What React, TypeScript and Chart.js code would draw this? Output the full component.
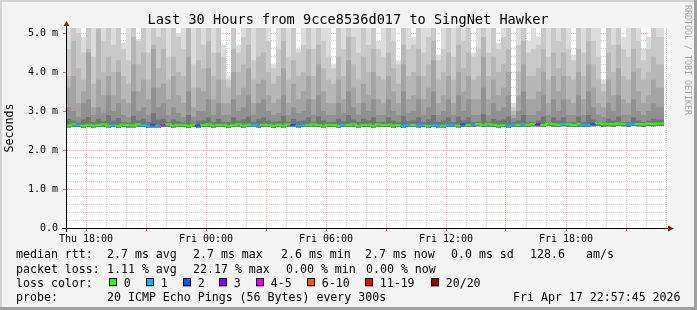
import React, { useEffect, useRef } from 'react';
import { Chart, registerables } from 'chart.js';

Chart.register(...registerables);

// ---- time axis (hours counted from Thu 00:00) ----
const START_HOUR = 17;
const END_HOUR = 47;
const BIN_HOURS = 0.25;
const DATA_END = 46.9;
const DAY_NAMES = ['Thu', 'Fri'];

const TITLE = 'Last 30 Hours from 9cce8536d017 to SingNet Hawker';
const Y_TITLE = 'Seconds';
const WATERMARK = 'RRDTOOL / TOBI OETIKER';

// ---- smoke layers (seconds, in milli units shown as "m") ----
const smokeMin = [
  2.59, 2.58, 2.6, 2.59, 2.57, 2.59, 2.58, 2.59, 2.6, 2.58,
  2.59, 2.57, 2.59, 2.58, 2.58, 2.6, 2.59, 2.57, 2.58, 2.58,
  2.59, 2.6, 2.58, 2.59, 2.59, 2.57, 2.59, 2.58, 2.59, 2.6,
  2.58, 2.59, 2.59, 2.57, 2.59, 2.6, 2.58, 2.59, 2.59, 2.58,
  2.59, 2.59, 2.57, 2.59, 2.58, 2.6, 2.59, 2.58, 2.59, 2.59,
  2.6, 2.59, 2.58, 2.59, 2.59, 2.57, 2.59, 2.59, 2.6, 2.58,
  2.59, 2.59, 2.58, 2.6, 2.59, 2.59, 2.58, 2.59, 2.57, 2.59,
  2.59, 2.58, 2.59, 2.57, 2.59, 2.58, 2.57, 2.59, 2.59, 2.58,
  2.6, 2.59, 2.59, 2.61, 2.59, 2.6, 2.59, 2.58, 2.59, 2.58,
  2.59, 2.59, 2.6, 2.59, 2.61, 2.6, 2.59, 2.62, 2.6, 2.59,
  2.61, 2.6, 2.59, 2.6, 2.59, 2.59, 2.61, 2.62, 2.6, 2.61,
  2.6, 2.62, 2.61, 2.6, 2.62, 2.61, 2.6, 2.62, 2.61, 2.62,
];

const smokeMax = [
  5.3, 5.3, 5.3, 5.3, 4.9, 5.3, 5.3, 5.3, 5.3, 5.3,
  5.3, 5.3, 4.75, 5.3, 5.3, 4.85, 5.3, 5.3, 5.3, 5.3,
  5.3, 5.3, 5.3, 5.0, 5.3, 5.3, 5.3, 5.3, 5.3, 5.3,
  5.3, 5.3, 4.7, 3.9, 5.3, 4.7, 5.3, 5.3, 5.3, 5.3,
  5.3, 5.3, 4.2, 5.3, 5.3, 5.3, 5.3, 4.6, 5.3, 5.3,
  5.3, 5.3, 5.3, 5.3, 4.2, 5.3, 5.3, 5.3, 5.3, 5.3,
  5.3, 5.3, 5.3, 4.8, 5.3, 5.3, 5.3, 4.3, 5.3, 5.3,
  4.9, 5.3, 5.3, 5.3, 5.3, 4.45, 5.3, 5.3, 5.3, 5.3,
  5.3, 5.3, 4.5, 5.3, 5.3, 5.3, 5.3, 4.75, 5.3, 5.3,
  3.2, 5.3, 5.3, 4.8, 5.3, 4.9, 5.3, 5.3, 5.3, 5.3,
  5.3, 5.3, 4.45, 5.3, 5.3, 5.3, 5.3, 5.3, 3.8, 5.3,
  5.3, 5.3, 4.9, 5.3, 5.3, 5.3, 4.6, 4.9, 5.3, 5.3,
];

const smokeQ2 = [
  5.3, 4.6, 5.3, 5.0, 4.5, 5.3, 4.4, 5.3, 4.8, 5.3,
  4.7, 5.3, 4.6, 4.3, 5.3, 4.8, 5.3, 4.5, 5.3, 4.9,
  5.3, 4.4, 5.3, 4.9, 4.6, 5.3, 4.2, 5.3, 4.7, 5.3,
  4.5, 5.3, 4.4, 3.8, 5.3, 4.5, 4.9, 5.3, 4.3, 5.3,
  5.3, 4.8, 4.1, 4.6, 5.3, 4.4, 5.3, 4.5, 4.7, 5.3,
  4.6, 5.3, 4.8, 4.4, 4.1, 5.3, 4.6, 5.3, 4.9, 4.5,
  5.3, 4.7, 5.3, 4.6, 4.4, 5.3, 4.8, 4.2, 5.3, 4.6,
  4.7, 5.3, 4.5, 4.9, 5.3, 4.3, 4.6, 5.3, 4.4, 5.3,
  4.8, 5.3, 4.4, 4.6, 5.3, 4.5, 5.3, 4.6, 4.9, 5.3,
  3.1, 4.7, 5.3, 4.5, 4.6, 4.7, 5.3, 4.4, 5.3, 4.8,
  5.3, 4.6, 4.3, 5.3, 4.5, 5.3, 4.8, 4.4, 3.7, 5.3,
  4.7, 5.3, 4.6, 4.4, 5.3, 4.8, 4.3, 4.6, 5.3, 4.9,
];

const smokeQ3 = [
  4.2, 3.9, 4.8, 4.1, 3.8, 4.6, 3.7, 5.1, 4.0, 4.4,
  4.0, 4.3, 3.9, 3.7, 4.9, 4.2, 4.5, 3.8, 4.7, 4.1,
  4.6, 3.8, 4.4, 4.0, 3.9, 5.2, 3.6, 4.3, 4.1, 4.8,
  3.9, 4.5, 3.8, 3.6, 4.6, 4.0, 4.2, 4.7, 3.8, 4.4,
  4.5, 4.0, 3.7, 3.9, 4.8, 3.8, 4.3, 3.9, 4.0, 4.6,
  3.9, 4.7, 4.1, 3.8, 3.7, 4.4, 3.9, 4.9, 4.2, 3.8,
  4.4, 4.0, 4.6, 3.9, 3.8, 4.5, 4.1, 3.7, 4.7, 3.9,
  4.0, 4.6, 3.9, 4.2, 4.8, 3.8, 4.0, 4.5, 3.8, 4.7,
  4.1, 4.5, 3.8, 3.9, 4.9, 3.9, 4.4, 4.0, 4.2, 4.6,
  3.0, 4.0, 4.8, 3.9, 3.9, 4.1, 4.6, 3.8, 4.5, 4.1,
  4.5, 3.9, 3.8, 4.6, 3.9, 4.8, 4.2, 3.8, 3.5, 4.5,
  4.0, 4.7, 3.9, 3.8, 4.6, 4.1, 3.8, 4.0, 4.4, 4.2,
];

const smokeQ4 = [
  3.3, 3.6, 3.9, 3.2, 3.5, 4.5, 3.1, 3.8, 3.4, 3.9,
  3.4, 4.0, 3.3, 3.2, 4.2, 3.5, 3.8, 3.3, 4.6, 3.6,
  3.7, 3.3, 3.9, 3.4, 3.2, 4.4, 3.1, 3.6, 3.5, 4.1,
  3.3, 3.8, 3.2, 3.2, 4.0, 3.4, 3.6, 4.1, 3.2, 3.7,
  3.8, 3.4, 3.2, 3.3, 4.1, 3.2, 3.7, 3.3, 3.5, 3.9,
  3.3, 4.2, 3.5, 3.2, 3.2, 3.8, 3.3, 4.3, 3.6, 3.2,
  3.7, 3.4, 4.0, 3.3, 3.2, 3.9, 3.5, 3.2, 4.2, 3.3,
  3.4, 3.9, 3.3, 3.6, 4.3, 3.2, 3.4, 3.9, 3.2, 4.0,
  3.5, 3.9, 3.3, 3.3, 4.4, 3.3, 3.8, 3.4, 3.6, 4.0,
  2.9, 3.4, 4.2, 3.3, 3.3, 3.5, 4.0, 3.2, 3.9, 3.5,
  3.9, 3.3, 3.2, 4.0, 3.3, 4.2, 3.6, 3.2, 3.1, 3.8,
  3.4, 4.1, 3.3, 3.2, 4.0, 3.5, 3.2, 3.4, 3.8, 3.6,
];

const smokeQ5 = [
  2.9, 3.1, 3.0, 2.85, 3.2, 3.3, 2.9, 3.1, 2.95, 3.4,
  3.0, 3.2, 2.9, 2.85, 3.5, 3.0, 3.1, 2.9, 3.6, 3.1,
  3.2, 2.9, 3.1, 2.95, 2.85, 3.5, 2.85, 3.0, 3.0, 3.3,
  2.9, 3.2, 2.9, 2.9, 3.3, 3.0, 3.1, 3.4, 2.9, 3.2,
  3.3, 3.0, 2.9, 2.95, 3.4, 2.9, 3.1, 2.95, 3.0, 3.3,
  2.9, 3.4, 3.0, 2.9, 2.9, 3.2, 2.95, 3.5, 3.1, 2.9,
  3.2, 3.0, 3.3, 2.9, 2.9, 3.3, 3.0, 2.9, 3.5, 2.95,
  3.0, 3.3, 2.9, 3.1, 3.5, 2.9, 3.0, 3.3, 2.9, 3.4,
  3.0, 3.3, 2.9, 2.9, 3.6, 2.9, 3.2, 3.0, 3.1, 3.4,
  2.82, 3.0, 3.5, 2.9, 2.9, 3.0, 3.4, 2.9, 3.3, 3.0,
  3.3, 2.9, 2.9, 3.4, 2.9, 3.5, 3.1, 2.9, 2.85, 3.2,
  3.0, 3.4, 2.9, 2.9, 3.3, 3.0, 2.9, 3.0, 3.2, 3.1,
];

const smokeQ6 = [
  2.72, 2.8, 2.75, 2.7, 2.78, 2.85, 2.72, 2.8, 2.74, 2.9,
  2.75, 2.82, 2.72, 2.7, 2.88, 2.76, 2.8, 2.72, 2.95, 2.78,
  2.8, 2.72, 2.78, 2.74, 2.7, 2.9, 2.7, 2.75, 2.76, 2.84,
  2.72, 2.8, 2.72, 2.72, 2.84, 2.75, 2.78, 2.86, 2.72, 2.8,
  2.84, 2.76, 2.72, 2.74, 2.88, 2.72, 2.8, 2.74, 2.76, 2.85,
  2.72, 2.86, 2.76, 2.72, 2.72, 2.8, 2.74, 2.9, 2.78, 2.72,
  2.8, 2.76, 2.84, 2.72, 2.72, 2.84, 2.76, 2.72, 2.88, 2.74,
  2.76, 2.84, 2.72, 2.78, 2.9, 2.72, 2.76, 2.84, 2.72, 2.86,
  2.76, 2.84, 2.72, 2.72, 2.92, 2.72, 2.8, 2.76, 2.78, 2.86,
  2.72, 2.76, 2.9, 2.72, 2.72, 2.76, 2.86, 2.72, 2.84, 2.76,
  2.84, 2.72, 2.72, 2.86, 2.72, 2.9, 2.78, 2.72, 2.7, 2.8,
  2.76, 2.86, 2.72, 2.72, 2.84, 2.76, 2.72, 2.76, 2.8, 2.78,
];

const medianRtt = [
  2.64, 2.63, 2.66, 2.64, 2.62, 2.65, 2.63, 2.64, 2.66, 2.63,
  2.64, 2.62, 2.65, 2.64, 2.63, 2.66, 2.64, 2.62, 2.65, 2.63,
  2.64, 2.66, 2.63, 2.65, 2.64, 2.62, 2.65, 2.63, 2.64, 2.66,
  2.63, 2.64, 2.65, 2.62, 2.64, 2.66, 2.63, 2.65, 2.64, 2.63,
  2.65, 2.64, 2.62, 2.65, 2.63, 2.66, 2.64, 2.63, 2.65, 2.64,
  2.66, 2.64, 2.63, 2.65, 2.64, 2.62, 2.65, 2.64, 2.66, 2.63,
  2.64, 2.65, 2.63, 2.66, 2.64, 2.65, 2.63, 2.64, 2.62, 2.65,
  2.64, 2.63, 2.65, 2.62, 2.64, 2.63, 2.62, 2.64, 2.65, 2.63,
  2.66, 2.64, 2.65, 2.67, 2.64, 2.66, 2.65, 2.63, 2.64, 2.63,
  2.65, 2.64, 2.66, 2.65, 2.67, 2.66, 2.64, 2.68, 2.66, 2.65,
  2.67, 2.66, 2.64, 2.66, 2.65, 2.64, 2.67, 2.69, 2.66, 2.67,
  2.66, 2.68, 2.67, 2.66, 2.68, 2.67, 2.66, 2.68, 2.67, 2.68,
];

// index into lossLabels / lossColors for each bin
const lossIndex = [
  0, 0, 1, 0, 0, 0, 0, 0, 0, 1,
  0, 0, 0, 0, 0, 1, 1, 2, 1, 4,
  0, 0, 0, 0, 0, 0, 2, 0, 0, 0,
  0, 0, 0, 0, 0, 0, 0, 1, 1, 0,
  0, 0, 0, 0, 0, 2, 1, 1, 0, 0,
  0, 0, 0, 0, 0, 1, 0, 0, 0, 0,
  0, 0, 0, 0, 0, 0, 0, 1, 1, 0,
  1, 1, 0, 1, 1, 0, 1, 1, 0, 2,
  0, 1, 0, 0, 0, 0, 0, 0, 1, 1,
  0, 1, 0, 0, 3, 0, 0, 0, 0, 1,
  0, 0, 0, 1, 1, 2, 0, 0, 0, 0,
  0, 0, 1, 1, 0, 0, 0, 0, 0, 0,
];

const lossLabels = ['0', '1', '2', '3', '4-5', '6-10', '11-19', '20/20'];
const lossColors = ['#26ff00', '#00b8ff', '#0059ff', '#7e00ff', '#f000ff', '#ff5500', '#ff0000', '#a10000'];

const smokeLayers = [smokeMax, smokeQ2, smokeQ3, smokeQ4, smokeQ5, smokeQ6];
const smokeColors = ['#dcdcdc', '#c9c9c9', '#b7b7b7', '#a4a4a4', '#919191', '#757575'];

// ---- legend texts ----
const rttTexts = ['2.7 ms avg', '2.7 ms max', '2.6 ms min', '2.7 ms now', '0.0 ms sd', '128.6', 'am/s'];
const lossTexts = ['1.11 % avg', '22.17 % max', '0.00 % min', '0.00 % now'];
const probeText = '20 ICMP Echo Pings (56 Bytes) every 300s';
const stampText = 'Fri Apr 17 22:57:45 2026';

const MONO = '"DejaVu Sans Mono", monospace';

const binTimes = smokeMax.map((_, i) => START_HOUR + i * BIN_HOURS);
const toPoints = (arr: number[]) => [
  ...arr.map((v, i) => ({ x: binTimes[i], y: v })),
  { x: DATA_END, y: arr[arr.length - 1] },
];

const isWhole = (v: number, step: number) => Math.abs(v / step - Math.round(v / step)) < 1e-6;

const decorPlugin = {
  id: 'decor',
  beforeDraw(chart: any) {
    const { ctx, chartArea: a, width, height } = chart;
    ctx.save();
    ctx.fillStyle = '#f3f3f3';
    ctx.fillRect(0, 0, width, height);
    ctx.fillStyle = '#ffffff';
    ctx.fillRect(a.left, a.top, a.right - a.left, a.bottom - a.top);
    ctx.restore();
  },
  afterDraw(chart: any) {
    const { ctx, chartArea: a, width, height } = chart;
    ctx.save();
    // axis extensions + arrows
    ctx.strokeStyle = '#000';
    ctx.lineWidth = 1;
    ctx.beginPath();
    ctx.moveTo(a.left + 0.5, a.bottom + 4);
    ctx.lineTo(a.left + 0.5, a.top - 3);
    ctx.moveTo(a.left - 4, a.bottom + 0.5);
    ctx.lineTo(a.right + 3, a.bottom + 0.5);
    ctx.stroke();
    ctx.fillStyle = '#8b1a1a';
    ctx.beginPath();
    ctx.moveTo(a.left + 0.5, a.top - 7);
    ctx.lineTo(a.left - 2.5, a.top - 2);
    ctx.lineTo(a.left + 3.5, a.top - 2);
    ctx.closePath();
    ctx.fill();
    ctx.beginPath();
    ctx.moveTo(a.right + 8, a.bottom + 0.5);
    ctx.lineTo(a.right + 2, a.bottom - 2.5);
    ctx.lineTo(a.right + 2, a.bottom + 3.5);
    ctx.closePath();
    ctx.fill();

    // title
    ctx.fillStyle = '#000';
    ctx.font = `13.6px ${MONO}`;
    ctx.textAlign = 'center';
    ctx.textBaseline = 'alphabetic';
    ctx.fillText(TITLE, 348, 24);

    // legend
    ctx.font = `11.6px ${MONO}`;
    ctx.textAlign = 'left';
    const L = 16;
    const rows = [258.3, 272.5, 286.7, 300.9];
    ctx.fillText('median rtt:', L, rows[0]);
    const rttX = [107, 193, 281, 365, 451, 530, 586];
    rttTexts.forEach((t, i) => ctx.fillText(t, rttX[i], rows[0]));
    ctx.fillText('packet loss:', L, rows[1]);
    const lossX = [107, 193, 286, 366];
    lossTexts.forEach((t, i) => ctx.fillText(t, lossX[i], rows[1]));
    ctx.fillText('loss color:', L, rows[2]);
    const boxX = [109, 146, 183, 219, 256, 307, 365, 431];
    lossLabels.forEach((t, i) => {
      ctx.fillStyle = lossColors[i];
      ctx.fillRect(boxX[i], 278.5, 8, 8);
      ctx.strokeStyle = '#000';
      ctx.strokeRect(boxX[i] + 0.5, 278.5, 7, 7);
      ctx.fillStyle = '#000';
      ctx.fillText(t, boxX[i] + 14.7, rows[2]);
    });
    ctx.fillText('probe:', L, rows[3]);
    ctx.fillText(probeText, 107, rows[3]);
    ctx.fillText(stampText, 513, rows[3]);

    // watermark
    ctx.save();
    ctx.translate(687.5, 5);
    ctx.rotate(Math.PI / 2);
    ctx.font = `8.3px ${MONO}`;
    ctx.fillStyle = '#a8a8a8';
    ctx.textBaseline = 'middle';
    ctx.textAlign = 'left';
    ctx.fillText(WATERMARK, 0, 0);
    ctx.restore();

    // frame
    ctx.fillStyle = '#d2d2d2';
    ctx.fillRect(0, 0, width, 2);
    ctx.fillRect(0, 0, 2, height);
    ctx.fillStyle = '#a0a0a0';
    ctx.fillRect(0, height - 3, width, 3);
    ctx.fillRect(width - 3, 0, 3, height);
    ctx.restore();
  },
};

const MAJOR_GRID = 'rgba(255,0,0,0.35)';
const MINOR_GRID = 'rgba(140,140,140,0.38)';

export default function App() {
  const ref = useRef<HTMLCanvasElement>(null);
  useEffect(() => {
    document.body.style.margin = '0';
    const datasets: any[] = [
      {
        label: 'min',
        data: toPoints(smokeMin),
        borderColor: 'transparent',
        borderWidth: 0,
        pointRadius: 0,
        fill: false,
        stepped: 'after',
        order: 20,
      },
      ...smokeLayers.map((arr, k) => ({
        label: `smoke${k}`,
        data: toPoints(arr),
        borderColor: 'transparent',
        borderWidth: 0,
        backgroundColor: smokeColors[k],
        pointRadius: 0,
        fill: 0,
        stepped: 'after',
        order: 10 - k,
      })),
      {
        label: 'median',
        data: toPoints(medianRtt),
        borderColor: lossColors[0],
        borderWidth: 2,
        pointRadius: 0,
        fill: false,
        stepped: 'after',
        order: 0,
        segment: {
          borderColor: (c: any) => lossColors[lossIndex[Math.min(c.p0DataIndex, lossIndex.length - 1)]],
        },
      },
    ];

    const chart = new Chart(ref.current as HTMLCanvasElement, {
      type: 'line',
      data: { datasets },
      plugins: [decorPlugin],
      options: {
        animation: false,
        responsive: false,
        devicePixelRatio: 1,
        events: [],
        layout: { padding: { left: 0, top: 28, right: 31, bottom: 0 } },
        plugins: { legend: { display: false }, title: { display: false }, tooltip: { enabled: false } },
        scales: {
          x: {
            type: 'linear',
            min: START_HOUR,
            max: END_HOUR,
            z: 1,
            afterFit: (s: any) => { s.height = 82; },
            border: { display: true, color: '#000', width: 1, dash: [1, 1] },
            grid: {
              color: (c: any) => (c.tick && isWhole(c.tick.value, 3) ? MAJOR_GRID : MINOR_GRID),
              tickColor: (c: any) => (c.tick && isWhole(c.tick.value, 3) ? 'rgba(255,0,0,0.6)' : 'rgba(0,0,0,0)'),
              tickLength: 3,
              lineWidth: 1,
            },
            ticks: {
              stepSize: 1,
              autoSkip: false,
              maxRotation: 0,
              includeBounds: false,
              padding: 2,
              color: '#000',
              font: { family: MONO, size: 10 },
              callback: (v: any) => {
                const h = Number(v);
                if (!isWhole(h, 6)) return '';
                const day = DAY_NAMES[Math.floor(h / 24)];
                const hh = String(Math.round(h % 24)).padStart(2, '0');
                return `${day} ${hh}:00`;
              },
            },
          },
          y: {
            type: 'linear',
            min: 0,
            max: 5.13,
            z: 1,
            afterFit: (s: any) => { s.width = 66; },
            border: { display: true, color: '#000', width: 1, dash: [1, 1] },
            title: {
              display: true,
              text: Y_TITLE,
              color: '#000',
              font: { family: MONO, size: 11.6 },
              padding: { top: 3, bottom: 0 },
            },
            grid: {
              color: (c: any) => (c.tick && isWhole(c.tick.value, 1) ? MAJOR_GRID : MINOR_GRID),
              tickColor: (c: any) => (c.tick && isWhole(c.tick.value, 1) ? 'rgba(255,0,0,0.6)' : 'rgba(0,0,0,0)'),
              tickLength: 3,
              lineWidth: 1,
            },
            ticks: {
              stepSize: 0.2,
              autoSkip: false,
              includeBounds: false,
              padding: 5,
              color: '#000',
              font: { family: MONO, size: 10 },
              callback: (v: any) => {
                const n = Number(v);
                if (!isWhole(n, 1)) return '';
                return n === 0 ? '0.0' : `${n.toFixed(1)} m`;
              },
            },
          },
        },
      },
    } as any);
    return () => chart.destroy();
  }, []);
  return <canvas ref={ref} width={697} height={310} style={{ display: 'block', width: 697, height: 310 }} />;
}
